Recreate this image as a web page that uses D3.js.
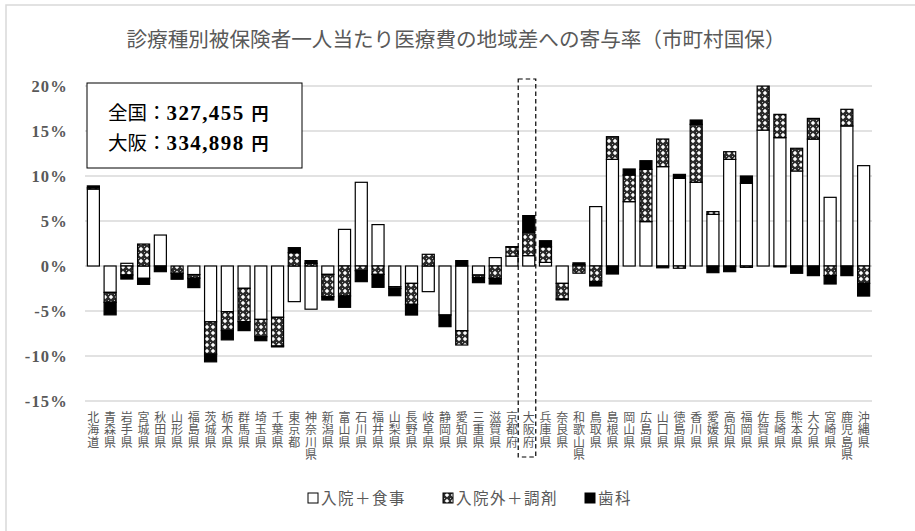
<!DOCTYPE html>
<html><head><meta charset="utf-8">
<script src="https://cdn.jsdelivr.net/npm/d3@7"></script>
<style>body{margin:0;background:#fff}svg{display:block}</style>
</head><body>
<svg id="c" width="915" height="531"></svg>
<script>
const prefectures = ["北海道","青森県","岩手県","宮城県","秋田県","山形県","福島県","茨城県","栃木県","群馬県","埼玉県","千葉県","東京都","神奈川県","新潟県","富山県","石川県","福井県","山梨県","長野県","岐阜県","静岡県","愛知県","三重県","滋賀県","京都府","大阪府","兵庫県","奈良県","和歌山県","鳥取県","島根県","岡山県","広島県","山口県","徳島県","香川県","愛媛県","高知県","福岡県","佐賀県","長崎県","熊本県","大分県","宮崎県","鹿児島県","沖縄県"];
const inpatient = [8.55,-2.93,0.3,-1.37,3.44,0,-0.95,-6.2,-5.07,-2.48,-5.93,-5.7,-3.96,-4.8,-0.93,4.07,9.3,4.6,-2.3,-1.93,-2.85,-5.44,-7.19,-1.0,0.93,1.1,1.15,0.4,-1.93,0.15,6.6,11.85,7.15,4.93,11.04,9.74,9.3,5.74,11.85,9.19,15.1,14.26,10.56,14.1,7.63,15.56,11.15];
const outpatient = [0.15,-1.1,-1.0,2.44,0,-0.8,-0.4,-3.6,-2.1,-3.7,-1.93,-3.19,1.48,0.3,-2.48,-3.33,-0.52,-0.93,-0.2,-2.33,1.3,0,-1.59,-0.3,-1.37,1.0,2.6,1.74,-1.74,-0.8,-1.74,2.52,2.96,5.81,3.07,-0.25,6.44,0.3,0.85,-0.15,4.89,2.59,2.52,2.3,-1.07,1.85,-1.93];
const dental = [0.2,-1.4,-0.45,-0.67,-0.63,-0.67,-1.05,-0.85,-1.04,-1.0,-0.44,-0.1,0.56,0.3,-0.37,-1.26,-1.22,-1.44,-0.8,-1.19,0,-1.3,0.6,-0.55,-0.63,0.05,1.85,0.67,-0.1,0.2,-0.48,-0.89,0.67,0.96,-0.2,0.44,0.48,-0.74,-0.63,0.81,0,-0.1,-0.81,-1.07,-0.93,-1.07,-1.41];
const seriesNames = ["入院＋食事","入院外＋調剤","歯科"];
const yTicks = [-15,-10,-5,0,5,10,15,20];
const titleText = "診療種別被保険者一人当たり医療費の地域差への寄与率（市町村国保）";
const infoLines = [["全国：","327,455","円"],["大阪：","334,898","円"]];
const highlight = "大阪府";

const svg = d3.select("#c");
const jp = "'Noto Sans CJK JP', sans-serif";
const serif = "'Liberation Serif', 'DejaVu Serif', serif";
const grey = "#595959";

// pattern
const defs = svg.append("defs");
const pat = defs.append("pattern").attr("id","hatch").attr("patternUnits","userSpaceOnUse")
  .attr("width",6).attr("height",6);
pat.append("rect").attr("width",6).attr("height",6).attr("fill","#2a2a2a");
pat.append("path").attr("d","M3,0.8 L5.2,3 L3,5.2 L0.8,3 Z").attr("fill","#fff");
pat.append("rect").attr("x",0).attr("y",0).attr("width",1).attr("height",1).attr("fill","#bbb");

// frame
svg.append("rect").attr("x",6).attr("y",5).attr("width",920).attr("height",540)
  .attr("fill","none").attr("stroke","#d9d9d9").attr("stroke-width",1.5);

const x = d3.scaleBand().domain(prefectures).range([85,872]).paddingInner(0.28).paddingOuter(0.14);
const y = d3.scaleLinear().domain([-15,20]).range([401,86]);

// title
svg.append("text").attr("x",456).attr("y",47).attr("text-anchor","middle")
  .attr("font-family",jp).attr("font-size",20.6).attr("fill",grey).text(titleText);

// grid
svg.append("g").selectAll("line").data(yTicks).join("line")
  .attr("x1",85).attr("x2",872).attr("y1",d=>y(d)).attr("y2",d=>y(d))
  .attr("stroke","#d9d9d9").attr("stroke-width",1.5);

// y axis labels
const yAxis = d3.axisLeft(y).tickValues(yTicks).tickFormat(d=>d+"%").tickSize(0).tickPadding(0);
const ya = svg.append("g").attr("transform","translate(68,0)").call(yAxis);
ya.select(".domain").remove();
ya.selectAll("text").attr("font-family",serif).attr("font-weight","bold").attr("font-size",16.5)
  .attr("letter-spacing",1.2).attr("fill",grey).attr("dy","0.35em");

// bars
const rows = prefectures.map((p,i)=>({pref:p, a:inpatient[i], b:outpatient[i], c:dental[i]}));
const stack = d3.stack().keys(["a","b","c"]).offset(d3.stackOffsetDiverging);
const series = stack(rows);
const fills = ["#fff","url(#hatch)","#000"];
svg.append("g").selectAll("g").data(series).join("g")
  .attr("fill",(d,i)=>fills[i])
  .selectAll("rect").data(d=>d).join("rect")
  .attr("x",d=>x(d.data.pref)).attr("width",x.bandwidth())
  .attr("y",d=>y(Math.max(d[0],d[1])))
  .attr("height",d=>Math.abs(y(d[0])-y(d[1])))
  .attr("stroke","#000").attr("stroke-width",1.2);

// x labels (vertical writing)
svg.append("g").selectAll("text").data(prefectures).join("text")
  .attr("x",d=>x(d)+x.bandwidth()/2).attr("y",411)
  .attr("writing-mode","vertical-rl")
  .style("text-orientation","upright")
  .attr("letter-spacing",0.6)
  .attr("font-family",jp).attr("font-size",12).attr("fill",grey)
  .text(d=>d);

// highlight dashed rect
const hx = x(highlight);
svg.append("rect").attr("x",hx-4.5).attr("y",79).attr("width",x.bandwidth()+5.5).attr("height",378)
  .attr("fill","none").attr("stroke","#000").attr("stroke-width",1.2).attr("stroke-dasharray","4.5,3");

// info box
svg.append("rect").attr("x",87).attr("y",83).attr("width",215).attr("height",85)
  .attr("fill","#fff").attr("stroke","#000").attr("stroke-width",1);
infoLines.forEach((ln,i)=>{
  const t = svg.append("text").attr("x",108).attr("y",120+i*30).attr("fill","#000");
  t.append("tspan").attr("font-family",jp).attr("font-size",19.5).text(ln[0]);
  t.append("tspan").attr("font-family",serif).attr("font-weight","bold").attr("font-size",21)
    .attr("letter-spacing",1.4).text(ln[1]);
  t.append("tspan").attr("font-family",jp).attr("font-weight","bold").attr("font-size",17).attr("dx",7).text(ln[2]);
});

// legend
const legX = [308,443,585];
const legFill = ["#fff","url(#hatch)","#000"];
seriesNames.forEach((n,i)=>{
  svg.append("rect").attr("x",legX[i]).attr("y",493).attr("width",10).attr("height",10)
    .attr("fill",legFill[i]).attr("stroke","#000").attr("stroke-width",1);
  svg.append("text").attr("x",legX[i]+13).attr("y",504).attr("font-family",jp).attr("font-size",15.5)
    .attr("letter-spacing",1.5).attr("fill",grey).text(n);
});
</script>
</body></html>
